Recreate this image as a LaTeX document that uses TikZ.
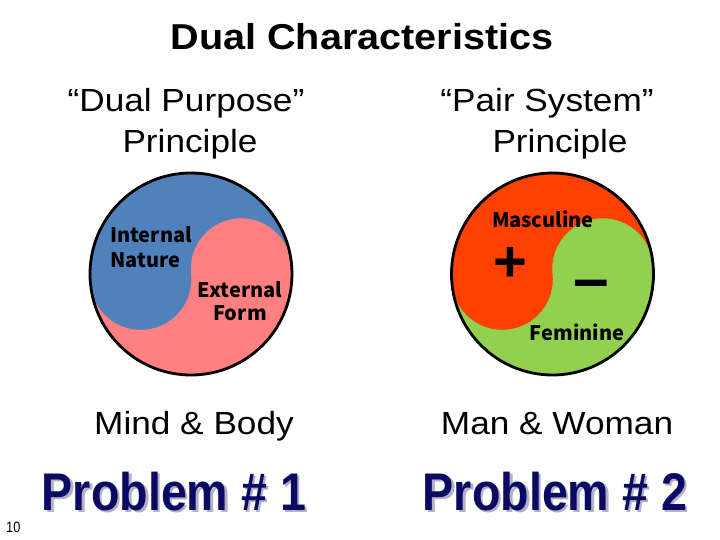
\documentclass[tikz,border=0pt]{standalone}
\usepackage{fontspec}
\usepackage{graphicx}
\setmainfont{Liberation Sans}
\newfontfamily\jpf{Noto Sans CJK JP}
\definecolor{yblue}{RGB}{79,129,189}
\definecolor{ypink}{RGB}{255,128,128}
\definecolor{yred}{RGB}{255,64,0}
\definecolor{ygreen}{RGB}{146,208,80}
\definecolor{probnavy}{RGB}{10,10,100}
\definecolor{probshadow}{RGB}{178,178,196}
\tikzset{
  titletext/.style={font=\fontsize{36}{40}\selectfont\bfseries, anchor=base, inner sep=0pt},
  headtext/.style={font=\fontsize{32}{36}\selectfont, anchor=base, inner sep=0pt},
  inlabel/.style={font=\jpf\fontsize{20}{22}\selectfont\bfseries, anchor=base, inner sep=0pt},
  probtext/.style={font=\fontsize{53}{60}\selectfont\bfseries, anchor=base, inner sep=0pt, text=probnavy},
  probshade/.style={probtext, text=probshadow},
  outline/.style={draw=black, line width=2.8pt},
  signtext/.style={font=\fontsize{58}{60}\selectfont\bfseries, inner sep=0pt},
}
\begin{document}
\begin{tikzpicture}[x=1pt,y=-1pt]
\useasboundingbox (0,0) rectangle (720,540);
\fill[white] (0,0) rectangle (720,540);

% title
\node[titletext] (title) at (362,50) {\scalebox{1.1}[1]{Dual Characteristics}};

% headings
\node[headtext] (h1a) at (186,112) {\scalebox{1.1}[1]{“Dual Purpose”}};
\node[headtext] (h1b) at (190,153) {\scalebox{1.1}[1]{Principle}};
\node[headtext] (h2a) at (547,112) {\scalebox{1.1}[1]{“Pair System”}};
\node[headtext] (h2b) at (560,153) {\scalebox{1.1}[1]{Principle}};

% left yin-yang
\fill[ypink] (191,274) circle[radius=101];
\begin{scope}[rotate around={6:(191,274)}]
\fill[yblue] (90,274) arc[start angle=180,end angle=360,radius=101]
  arc[start angle=360,end angle=180,radius=50.5]
  arc[start angle=0,end angle=180,radius=50.5] -- cycle;
\end{scope}
\draw[outline] (191,274) circle[radius=101];

% right yin-yang
\fill[ygreen] (552.5,274) circle[radius=101];
\begin{scope}[rotate around={6:(552.5,274)}]
\fill[yred] (451.5,274) arc[start angle=180,end angle=360,radius=101]
  arc[start angle=360,end angle=180,radius=50.5]
  arc[start angle=0,end angle=180,radius=50.5] -- cycle;
\end{scope}
\draw[outline] (552.5,274) circle[radius=101];

% labels inside circles
\node[inlabel, anchor=base west] (internal) at (110,242) {Internal};
\node[inlabel, anchor=base west] (nature) at (110,267) {Nature};
\node[inlabel] (external) at (240,297) {External};
\node[inlabel] (form) at (240,320) {Form};
\node[inlabel] (masc) at (543,227) {Masculine};
\node[inlabel] (fem) at (577,340) {Feminine};
\node[signtext] (plus) at (510,264) {+};
\node[signtext, font=\fontsize{64}{66}\selectfont\bfseries] (minus) at (591,290) {–};

% bottom texts
\node[headtext] (mb) at (194,434) {\scalebox{1.1}[1]{Mind \& Body}};
\node[headtext] (mw) at (557,434) {\scalebox{1.1}[1]{Man \& Woman}};

\node[probshade] (p1s) at (176.5,512.5) {\scalebox{0.88}[1]{Problem \# 1}};
\node[probtext] (p1) at (174,510) {\scalebox{0.88}[1]{Problem \# 1}};
\node[probshade] (p2s) at (557.5,512.5) {\scalebox{0.88}[1]{Problem \# 2}};
\node[probtext] (p2) at (555,510) {\scalebox{0.88}[1]{Problem \# 2}};

\node[font=\fontsize{15}{16}\selectfont, anchor=base west, inner sep=0pt] (pagenum) at (6,532) {\scalebox{0.85}[1]{10}};
\end{tikzpicture}
\end{document}
